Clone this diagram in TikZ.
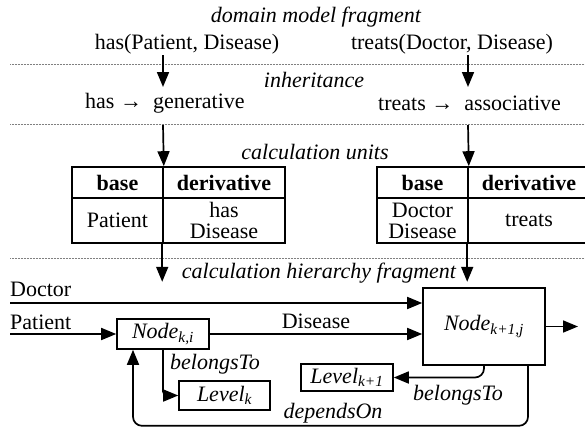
\documentclass[tikz,border=0pt]{standalone}
\usepackage{fontspec}
\setmainfont{Liberation Serif}
\usetikzlibrary{arrows.meta,calc}
\newcommand\dfont{\fontsize{22}{21}\selectfont}
\tikzset{
  txt/.style={inner sep=0pt, font=\dfont},
  itxt/.style={inner sep=0pt, font=\dfont\itshape},
  arr/.style={line width=1.7pt, -{Triangle[length=15pt,width=12pt]}},
  sep/.style={line width=0.9pt, gray, dash pattern=on 0.6pt off 0.9pt},
  cell/.style={draw, line width=1.6pt, inner sep=0pt, font=\dfont, align=center},
  box/.style={draw, line width=1.6pt, inner sep=0pt, font=\dfont\itshape},
}
\begin{document}
\begin{tikzpicture}[x=1pt,y=-1pt]
\useasboundingbox (0,0) rectangle (585,428);

% layer separators
\draw[sep] (10,64) -- (585,64);
\draw[sep] (10,124) -- (585,124);
\draw[sep] (10,258) -- (585,258);

% domain model fragment
\node[itxt] (dmf) at (316,17) {domain model fragment};
\node[txt] (hasPD) at (187,44) {has(Patient, Disease)};
\node[txt] (trDD) at (452,44) {treats(Doctor, Disease)};

% inheritance
\node[itxt] (inh) at (314,80) {inheritance};
\node[txt, anchor=west] (hasGen) at (85,103) {has → \ generative};
\node[txt, anchor=west] (trAss) at (378,103) {treats → \ associative};

% calculation units
\node[itxt] (cu) at (315,152) {calculation units};
\node[cell, minimum width=91pt, minimum height=31pt] (lb) at (117.5,182.5) {\bfseries base};
\node[cell, minimum width=122pt, minimum height=31pt] (ld) at (224,182.5) {\bfseries derivative};
\node[cell, minimum width=91pt, minimum height=45pt] (lb2) at (117.5,220.5) {Patient};
\node[cell, minimum width=122pt, minimum height=45pt] (ld2) at (224,220.5) {has\\Disease};
\node[cell, minimum width=91pt, minimum height=31pt] (rb) at (422.5,182.5) {\bfseries base};
\node[cell, minimum width=122pt, minimum height=31pt] (rd) at (529,182.5) {\bfseries derivative};
\node[cell, minimum width=91pt, minimum height=45pt] (rb2) at (422.5,220.5) {Doctor\\Disease};
\node[cell, minimum width=122pt, minimum height=45pt] (rd2) at (529,220.5) {treats};

% arrows between the layers
\coordinate (l1) at (163,55);
\coordinate (r1) at (468,55);
\coordinate (l2) at (163,125);
\coordinate (r2) at (468,125);
\draw[arr] (l1) -- (163,87);
\draw[arr] (r1) -- (468,87);
\draw[arr] (l2) -- (lb.north east);
\draw[arr] (r2) -- (rb.north east);
\draw[arr] (ld2.south west) -- ++(0,38);
\draw[arr] (rd2.south west) -- ++(0,38);

% calculation hierarchy fragment
\node[itxt] (chf) at (319,273) {calculation hierarchy fragment};
\node[txt, anchor=base west] (doc) at (10,296) {Doctor};
\node[txt, anchor=base west] (pat) at (10,329) {Patient};

\node[box, minimum width=92pt, minimum height=30pt] (nki) at (163,334) {Node\textsubscript{k,i}};
\node[box, minimum width=122pt, minimum height=77pt] (nkj) at (484,326.5) {Node\textsubscript{k+1,j}};
\node[box, minimum width=91pt, minimum height=29pt] (lk) at (224.5,395.5) {Level\textsubscript{k}};
\node[box, minimum width=92pt, minimum height=27pt] (lk1) at (347,377.5) {Level\textsubscript{k+1}};

\coordinate (docS) at (10,303);
\coordinate (patS) at (10,334);
\draw[arr] (docS) -- (docS -| nkj.west);
\draw[arr] (patS) -- (nki.west);
\draw[arr] (nki.east) -- node[txt, above=4pt, pos=0.5] (dis) {Disease} (nki.east -| nkj.west);
\coordinate (out) at (578,326.5);
\draw[arr] (nkj.east) -- (out);

\draw[arr, rounded corners=4pt] (nki.south) |- (lk.west);
\node[itxt] (bt1) at (215,364) {belongsTo};
\draw[arr, rounded corners=9pt] (nkj.south) |- (lk1.east);
\node[itxt] (bt2) at (458,395) {belongsTo};
\draw[arr, rounded corners=9pt] ([xshift=44pt]nkj.south) -- ++(0,60) -| ([xshift=-30pt]nki.south);
\node[itxt] (dep) at (333,413) {dependsOn};
\end{tikzpicture}
\end{document}
